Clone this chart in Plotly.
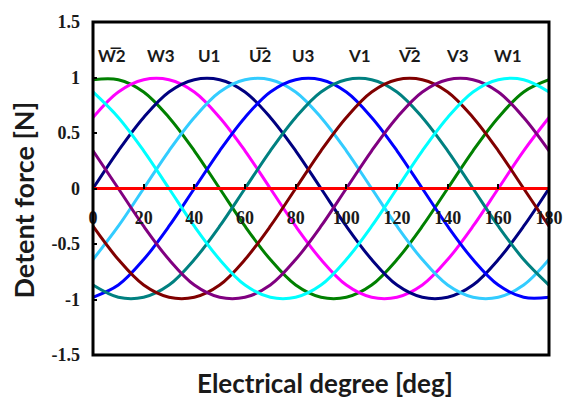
import plotly.graph_objects as go

# Electrical angle samples [deg]
angle = [0, 10, 20, 30, 40, 50, 60, 70, 80, 90, 100, 110, 120, 130, 140, 150, 160, 170, 180]

# Detent force of each coil group [N]
w2_bar = [0.98, 0.98, 0.87, 0.64, 0.34, 0.00, -0.34, -0.64, -0.87, -0.98, -0.98, -0.87, -0.64, -0.34, 0.00, 0.34, 0.64, 0.87, 0.98]
w3 = [0.64, 0.87, 0.98, 0.98, 0.87, 0.64, 0.34, 0.00, -0.34, -0.64, -0.87, -0.98, -0.98, -0.87, -0.64, -0.34, 0.00, 0.34, 0.64]
u1 = [0.00, 0.34, 0.64, 0.87, 0.98, 0.98, 0.87, 0.64, 0.34, 0.00, -0.34, -0.64, -0.87, -0.98, -0.98, -0.87, -0.64, -0.34, 0.00]
u2_bar = [-0.64, -0.34, 0.00, 0.34, 0.64, 0.87, 0.98, 0.98, 0.87, 0.64, 0.34, 0.00, -0.34, -0.64, -0.87, -0.98, -0.98, -0.87, -0.64]
u3 = [-0.98, -0.87, -0.64, -0.34, 0.00, 0.34, 0.64, 0.87, 0.98, 0.98, 0.87, 0.64, 0.34, 0.00, -0.34, -0.64, -0.87, -0.98, -0.98]
v1 = [-0.87, -0.98, -0.98, -0.87, -0.64, -0.34, 0.00, 0.34, 0.64, 0.87, 0.98, 0.98, 0.87, 0.64, 0.34, 0.00, -0.34, -0.64, -0.87]
v2_bar = [-0.34, -0.64, -0.87, -0.98, -0.98, -0.87, -0.64, -0.34, 0.00, 0.34, 0.64, 0.87, 0.98, 0.98, 0.87, 0.64, 0.34, 0.00, -0.34]
v3 = [0.34, 0.00, -0.34, -0.64, -0.87, -0.98, -0.98, -0.87, -0.64, -0.34, 0.00, 0.34, 0.64, 0.87, 0.98, 0.98, 0.87, 0.64, 0.34]
w1 = [0.87, 0.64, 0.34, 0.00, -0.34, -0.64, -0.87, -0.98, -0.98, -0.87, -0.64, -0.34, 0.00, 0.34, 0.64, 0.87, 0.98, 0.98, 0.87]
total = [0.00] * len(angle)

# Phase labels and the angle at which each is written
phase_labels = ["W\u03052", "W3", "U1", "U\u03052", "U3", "V1", "V\u03052", "V3", "W1"]
label_angle = [7.5, 26.7, 45.6, 66, 83, 105, 124.8, 143.7, 164]
label_level = 1.2

# Axis ticks
x_ticks = [0, 20, 40, 60, 80, 100, 120, 140, 160, 180]
y_ticks = [-1.5, -1, -0.5, 0, 0.5, 1, 1.5]

series = [
    (w2_bar, "#008000"),
    (w3, "#FF00FF"),
    (u1, "#000080"),
    (u2_bar, "#33CCFF"),
    (u3, "#0000FF"),
    (v1, "#008080"),
    (v2_bar, "#800000"),
    (v3, "#800080"),
    (w1, "#00FFFF"),
]

fig = go.Figure()
for values, color in series:
    fig.add_trace(go.Scatter(
        x=angle, y=values, mode="lines",
        line=dict(color=color, width=3, shape="spline", smoothing=1.0),
        showlegend=False, hoverinfo="skip",
    ))
fig.add_trace(go.Scatter(
    x=angle, y=total, mode="lines",
    line=dict(color="#FF0000", width=3),
    showlegend=False, hoverinfo="skip",
))

for text, xa in zip(phase_labels, label_angle):
    fig.add_annotation(
        x=xa, y=label_level, text="<b>" + text + "</b>", showarrow=False,
        font=dict(family="Lato", size=17, color="#1a1a1a"),
        xanchor="center", yanchor="middle",
    )

# Axis titles
fig.add_annotation(
    xref="paper", yref="paper", x=0.5, y=0, yshift=-28, xshift=4,
    text="<b>Electrical degree [deg]</b>", showarrow=False,
    font=dict(family="Lato", size=26, color="#1a1a1a"),
    xanchor="center", yanchor="middle",
)
fig.add_annotation(
    xref="paper", yref="paper", x=0, y=0.5, xshift=-70, yshift=-12,
    text="<b>Detent force [N]</b>", showarrow=False, textangle=-90,
    font=dict(family="Lato", size=27, color="#1a1a1a"),
    xanchor="center", yanchor="middle",
)

# Plot frame
fig.add_shape(type="rect", xref="paper", yref="paper", x0=0, x1=1, y0=0, y1=1,
              line=dict(color="black", width=3), layer="above")

serif = dict(family="Liberation Serif", size=18, color="#1a1a1a")

fig.update_layout(
    width=575, height=398,
    margin=dict(l=93, r=14, t=19, b=43),
    paper_bgcolor="white", plot_bgcolor="white",
    xaxis=dict(
        range=[0, 180], tickvals=x_ticks,
        ticktext=["<b>%d</b>" % v for v in x_ticks],
        anchor="free", position=0.5, side="bottom",
        showline=False, showgrid=False, zeroline=False,
        ticks="inside", ticklen=5, tickwidth=2, tickcolor="black",
        tickfont=serif, ticklabelstandoff=16,
    ),
    yaxis=dict(
        range=[-1.5, 1.5], tickvals=y_ticks,
        ticktext=["<b>%g</b>" % v for v in y_ticks],
        showline=False, showgrid=False, zeroline=False,
        ticks="inside", ticklen=4, tickwidth=2, tickcolor="black",
        tickfont=serif, ticklabelstandoff=12,
    ),
)

fig.write_html("out.html")
